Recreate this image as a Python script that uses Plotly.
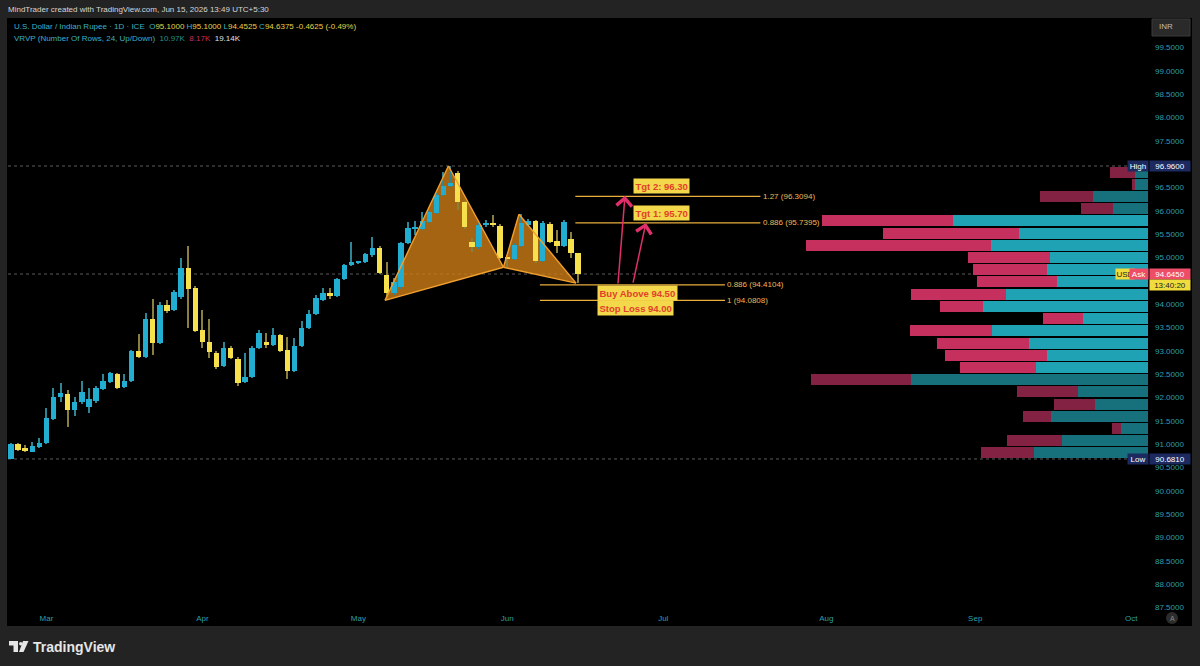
import numpy as np
import plotly.graph_objects as go

# ---------------- data ----------------
first_bar = "2026-02-23"
opens = [90.68, 91.00, 90.92, 90.84, 90.94, 91.02, 91.54, 92.00, 92.07, 91.73,
         91.90, 91.80, 91.92, 92.19, 92.33, 92.50, 92.23, 92.36, 93.00, 92.87,
         93.68, 93.17, 93.98, 93.87, 94.15, 94.77, 94.35, 93.45, 93.19, 92.95,
         92.67, 93.06, 92.82, 92.33, 92.44, 93.06, 93.19, 93.12, 93.34, 93.02,
         92.57, 93.10, 93.49, 93.79, 94.09, 94.24, 94.18, 94.54, 94.84, 94.90,
         94.90, 95.06, 95.20, 94.62, 94.24, 94.37, 95.31, 95.61, 95.61, 95.76,
         95.95, 96.34, 96.53, 96.81, 96.19, 95.33, 95.22, 95.70, 95.71, 95.68,
         94.99, 94.97, 95.25, 95.70, 95.78, 94.92, 95.72, 95.35, 95.25, 95.40,
         95.10]
highs = [91.02, 91.02, 90.97, 91.04, 91.13, 91.77, 92.20, 92.30, 92.16, 92.02,
         92.35, 92.20, 92.25, 92.50, 92.55, 92.52, 92.50, 93.02, 93.36, 93.80,
         94.10, 94.05, 94.09, 94.30, 94.99, 95.25, 94.38, 93.87, 93.68, 93.00,
         93.19, 93.10, 92.86, 92.95, 93.10, 93.45, 93.38, 93.49, 93.36, 93.30,
         93.27, 93.64, 93.87, 94.20, 94.35, 94.35, 94.56, 94.86, 95.33, 94.92,
         95.10, 95.44, 95.24, 94.90, 94.55, 95.33, 95.76, 95.78, 95.97, 96.00,
         96.38, 96.83, 96.96, 96.85, 96.22, 95.41, 95.73, 95.80, 95.91, 95.72,
         95.05, 95.30, 95.93, 95.82, 95.80, 95.78, 95.75, 95.59, 95.80, 95.55,
         95.10]
lows = [90.681, 90.85, 90.84, 90.82, 90.92, 91.00, 91.52, 91.90, 91.37, 91.60,
        91.85, 91.66, 91.88, 92.15, 92.30, 92.18, 92.20, 92.34, 92.85, 92.85,
        92.90, 93.15, 93.80, 93.85, 94.12, 93.49, 93.40, 93.06, 92.85, 92.60,
        92.65, 92.83, 92.25, 92.31, 92.42, 93.04, 93.06, 93.10, 92.98, 92.40,
        92.55, 93.08, 93.47, 93.77, 94.07, 94.11, 94.16, 94.52, 94.82, 94.88,
        94.88, 95.02, 94.64, 94.0808, 94.20, 94.33, 95.28, 95.48, 95.58, 95.74,
        95.93, 96.32, 96.50, 96.02, 95.60, 95.12, 95.18, 95.66, 95.66, 94.96,
        94.79, 94.94, 95.22, 95.66, 94.88, 94.90, 95.30, 95.10, 95.22, 94.99,
        94.4525]
closes = [91.00, 90.88, 90.86, 90.96, 91.03, 91.56, 92.01, 92.10, 91.73, 91.90,
          92.12, 91.97, 92.20, 92.36, 92.52, 92.20, 92.36, 93.00, 92.87, 93.68,
          93.17, 93.98, 93.85, 94.26, 94.77, 94.32, 93.42, 93.19, 92.98, 92.65,
          93.06, 92.85, 92.31, 92.44, 93.06, 93.38, 93.12, 93.34, 93.00, 92.57,
          93.10, 93.49, 93.79, 94.13, 94.24, 94.18, 94.54, 94.84, 94.90, 94.90,
          95.07, 95.20, 94.67, 94.24, 94.47, 95.31, 95.63, 95.63, 95.78, 95.97,
          96.34, 96.53, 96.60, 96.19, 95.65, 95.22, 95.70, 95.71, 95.70, 94.99,
          94.97, 95.27, 95.74, 95.78, 94.92, 95.74, 95.33, 95.25, 95.76, 95.10,
          94.6375]

month_labels = ["Mar", "Apr", "May", "Jun", "Jul", "Aug", "Sep", "Oct"]
month_first_days = ["2026-03-02", "2026-04-01", "2026-05-01", "2026-06-01",
                    "2026-07-01", "2026-08-03", "2026-09-01", "2026-10-01"]
# 94.5 and 97.0 are hidden behind the price tags in the original
price_ticks = [87.5, 88.0, 88.5, 89.0, 89.5, 90.0, 90.5, 91.0, 91.5, 92.0, 92.5,
               93.0, 93.5, 94.0, 95.0, 95.5, 96.0, 96.5, 97.5, 98.0,
               98.5, 99.0, 99.5]

# visible-range volume profile (24 rows, bottom -> top)
vp_low, vp_high = 90.681, 96.96
vol_up = [513, 390, 123, 436, 241, 318, 1071, 504, 454, 536, 704, 295,
          745, 640, 409, 454, 440, 708, 581, 881, 159, 250, 59, 59]
vol_dn = [241, 245, 41, 127, 182, 272, 449, 345, 463, 418, 372, 177,
          195, 431, 363, 336, 372, 835, 613, 590, 145, 236, 14, 114]
value_area = [0, 0, 0, 0, 0, 0, 0, 1, 1, 1, 1, 1,
              1, 1, 1, 1, 1, 1, 1, 1, 0, 0, 0, 0]
vp_totals = ["10.97K", "8.17K", "19.14K"]

ask_price = 94.645
countdown = "13:40:20"

# harmonic pattern points (bar index, price)
pat_names = ["X", "A", "B", "C", "D"]
pat_x = [52.75, 61.7, 69.46, 71.65, 79.7]
pat_y = [94.0808, 96.96, 94.79, 95.925, 94.45]

fib_labels = ["1.27 (96.3094)", "0.886 (95.7395)", "0.886 (94.4104)", "1 (94.0808)"]
fib_levels = [96.3094, 95.7395, 94.4104, 94.0808]
fib_x0 = [79.6, 79.6, 74.6, 74.6]
fib_x1 = [105.7, 105.7, 100.7, 100.7]

note_texts = ["Tgt 2: 96.30", "Tgt 1: 95.70", "Buy Above 94.50", "Stop Loss 94.00"]
note_x = [87.75, 87.75, 82.6, 82.6]
note_y = [96.53, 95.95, 94.24, 93.92]

arrow_tail_x = [85.6, 87.7]
arrow_tail_y = [94.41, 94.43]
arrow_tip_x = [86.6, 89.55]
arrow_tip_y = [96.32, 95.74]

# ---------------- styling ----------------
W, H = 1200, 666
ML, MR, MT, MB = 8, 52, 18, 58
PW, PH = W - ML - MR, H - MT - MB
FONT = "Liberation Sans"
UP, DN = "#22aed1", "#f6e04b"
UP_W, DN_W = "#2e8596", "#8a7f3c"
AXC = "#2f9fa9"
XR = [-0.42, 160.37]
YR = [87.487, 100.132]

def px(xp):
    return (xp - ML) / PW

def py(yp):
    return (H - MB - yp) / PH

n = len(opens)
idx = np.arange(n)
is_up = [c >= o for o, c in zip(opens, closes)]
month_idx = np.busday_count(first_bar, month_first_days)

fig = go.Figure()

# wicks
for up in (True, False):
    sel = [i for i in range(n) if is_up[i] == up]
    fig.add_trace(go.Bar(
        x=[idx[i] for i in sel], y=[highs[i] - lows[i] for i in sel],
        base=[lows[i] for i in sel], width=0.17,
        marker=dict(color=UP_W if up else DN_W, line=dict(width=0)),
        hoverinfo="skip", showlegend=False))
# bodies
for up in (True, False):
    sel = [i for i in range(n) if is_up[i] == up]
    fig.add_trace(go.Bar(
        x=[idx[i] for i in sel],
        y=[max(abs(closes[i] - opens[i]), 0.025) for i in sel],
        base=[min(opens[i], closes[i]) for i in sel], width=0.76,
        marker=dict(color=UP if up else DN, line=dict(width=0)),
        hoverinfo="skip", showlegend=False))

# volume profile
rows = len(vol_up)
step = (vp_high - vp_low) / rows
centers = [vp_low + (i + 0.5) * step for i in range(rows)]
up_cols = ["#20a2b5" if v else "#16717c" for v in value_area]
dn_cols = ["#c5305f" if v else "#842243" for v in value_area]
vmax = max(u + d for u, d in zip(vol_up, vol_dn))
fig.add_trace(go.Bar(y=centers, x=vol_up, base=[0] * rows, orientation="h",
                     xaxis="x2", yaxis="y", width=step * 0.9,
                     marker=dict(color=up_cols, line=dict(width=0)),
                     hoverinfo="skip", showlegend=False))
fig.add_trace(go.Bar(y=centers, x=vol_dn, base=vol_up, orientation="h",
                     xaxis="x2", yaxis="y", width=step * 0.9,
                     marker=dict(color=dn_cols, line=dict(width=0)),
                     hoverinfo="skip", showlegend=False))

shapes = []
# black chart panel
shapes.append(dict(type="rect", xref="paper", yref="paper", layer="below",
                   x0=px(7), x1=px(1192), y0=py(626), y1=py(18),
                   fillcolor="#000000", line=dict(width=0)))
# high / low / last price dotted lines
for lvl in (vp_high, vp_low, ask_price):
    shapes.append(dict(type="line", xref="paper", yref="y", layer="below",
                       x0=0, x1=1, y0=lvl, y1=lvl,
                       line=dict(color="#5c5c5c", width=1, dash="dot")))
# pattern fill
P = list(zip(pat_x, pat_y))
def tri(a, b, c):
    return f"M {a[0]},{a[1]} L {b[0]},{b[1]} L {c[0]},{c[1]} Z"
for a, b, c in ((P[0], P[1], P[2]), (P[2], P[3], P[4])):
    shapes.append(dict(type="path", xref="x", yref="y", layer="below",
                       path=tri(a, b, c), fillcolor="rgba(205,125,22,0.80)",
                       line=dict(width=0)))
for a, b in ((0, 1), (1, 2), (0, 2), (2, 3), (3, 4), (2, 4)):
    shapes.append(dict(type="line", xref="x", yref="y", layer="above",
                       x0=P[a][0], y0=P[a][1], x1=P[b][0], y1=P[b][1],
                       line=dict(color="#f2a02e", width=1.4)))
# fib lines
for lv, a, b in zip(fib_levels, fib_x0, fib_x1):
    shapes.append(dict(type="line", xref="x", yref="y", x0=a, x1=b, y0=lv, y1=lv,
                       line=dict(color="#eaae3c", width=1.3)))
# TradingView logo (bottom)
LOGO = "#e6e6e6"
shapes.append(dict(type="rect", xref="paper", yref="paper", x0=px(9), x1=px(18),
                   y0=py(645.5), y1=py(641), fillcolor=LOGO, line=dict(width=0)))
shapes.append(dict(type="rect", xref="paper", yref="paper", x0=px(13.5), x1=px(18),
                   y0=py(652), y1=py(641), fillcolor=LOGO, line=dict(width=0)))
shapes.append(dict(type="circle", xref="paper", yref="paper", x0=px(19), x1=px(22.5),
                   y0=py(645.5), y1=py(642), fillcolor=LOGO, line=dict(width=0)))
shapes.append(dict(type="path", xref="paper", yref="paper",
                   path=f"M {px(23)},{py(641)} L {px(28.5)},{py(641)} L {px(23.5)},{py(652)} L {px(19)},{py(652)} Z",
                   fillcolor=LOGO, line=dict(width=0)))
# small round button bottom right
shapes.append(dict(type="circle", xref="paper", yref="paper", x0=px(1166), x1=px(1178),
                   y0=py(624), y1=py(612), fillcolor="#2c2c2c", line=dict(width=0)))

ann = []
def A(**k):
    base = dict(showarrow=False, font=dict(family=FONT, size=8, color="#d0d0d0"))
    base.update(k)
    ann.append(base)

# header
A(text="MindTrader created with TradingView.com, Jun 15, 2026 13:49 UTC+5:30",
  xref="paper", yref="paper", x=px(6), y=py(9.5), xanchor="left", yanchor="middle",
  font=dict(family=FONT, size=8, color="#d6d6d6"))
cy, yl = "#3db0c4", "#e6d24a"
chg = closes[-1] - closes[-2]
pct = chg / closes[-2] * 100
t1 = (f"<span style='color:{cy}'>U.S. Dollar / Indian Rupee · 1D · ICE</span>  "
      f"<span style='color:{cy}'>O</span><span style='color:{yl}'>{opens[-1]:.4f}</span> "
      f"<span style='color:{cy}'>H</span><span style='color:{yl}'>{highs[-1]:.4f}</span> "
      f"<span style='color:{cy}'>L</span><span style='color:{yl}'>{lows[-1]:.4f}</span> "
      f"<span style='color:{cy}'>C</span><span style='color:{yl}'>{closes[-1]:.4f}</span> "
      f"<span style='color:{yl}'>{chg:.4f} ({pct:.2f}%)</span>")
A(text=t1, xref="paper", yref="paper", x=px(12), y=py(26), xanchor="left", yanchor="middle",
  font=dict(family=FONT, size=8, color=cy))
t2 = (f"<span style='color:{cy}'>VRVP (Number Of Rows, {rows}, Up/Down)</span>  "
      f"<span style='color:#23958f'>{vp_totals[0]}</span>  "
      f"<span style='color:#c5305f'>{vp_totals[1]}</span>  "
      f"<span style='color:#e0e0e0'>{vp_totals[2]}</span>")
A(text=t2, xref="paper", yref="paper", x=px(12), y=py(38.5), xanchor="left", yanchor="middle",
  font=dict(family=FONT, size=8, color=cy))

# fib labels
for t, lv, a, b in zip(fib_labels, fib_levels, fib_x0, fib_x1):
    A(text=t, xref="x", yref="y", x=b + 0.05, y=lv, xanchor="left", yanchor="middle",
      font=dict(family=FONT, size=8, color="#eeb85a"))
# notes
for t, x, y in zip(note_texts, note_x, note_y):
    A(text=f"<b>{t}</b>", xref="x", yref="y", x=x, y=y, xanchor="left", yanchor="middle",
      bgcolor="#f3d84b", borderpad=1.5, font=dict(family=FONT, size=9.5, color="#e2402a"))
# arrows
for tx, ty, hx, hy in zip(arrow_tail_x, arrow_tail_y, arrow_tip_x, arrow_tip_y):
    ann.append(dict(x=hx, y=hy, ax=tx, ay=ty, xref="x", yref="y", axref="x", ayref="y",
                    text="", showarrow=True, arrowhead=4, arrowsize=2, arrowwidth=1.5,
                    arrowcolor="#e0306a", standoff=0))

# right-side price scale labels
def tag(text, xc, w, yv, bg, fc="#ffffff"):
    A(text=text, xref="paper", yref="y", x=px(xc), y=yv, xanchor="center", yanchor="middle",
      width=w, height=10, bgcolor=bg, borderpad=0, align="center",
      font=dict(family=FONT, size=8, color=fc))
tag("High", 1138, 20, vp_high, "#1d2a60")
tag(f"{vp_high:.4f}", 1170, 40, vp_high, "#1d2a60")
tag("Low", 1138, 20, vp_low, "#1d2a60")
tag(f"{vp_low:.4f}", 1170, 40, vp_low, "#1d2a60")
tag("USD", 1125, 18, ask_price, "#f0dc3c", "#222222")
tag("Ask", 1139, 18, ask_price, "#ee4d68")
tag(f"{ask_price:.4f}", 1170, 40, ask_price, "#ee4d68")
tag(countdown, 1170, 40, ask_price - 11 / PH * (YR[1] - YR[0]), "#f0dc3c", "#222222")
A(text="INR", xref="paper", yref="paper", x=px(1157), y=py(27), xanchor="left", yanchor="middle",
  font=dict(family=FONT, size=8, color="#bdbdbd"))
shapes.append(dict(type="rect", xref="paper", yref="paper", x0=px(1152), x1=px(1190),
                   y0=py(36), y1=py(19), fillcolor="#2a2a2a", line=dict(color="#3a3a3a", width=1),
                   layer="below"))
A(text="A", xref="paper", yref="paper", x=px(1172), y=py(618), xanchor="center", yanchor="middle",
  font=dict(family=FONT, size=7, color="#8a8a8a"))
# bottom logo text
A(text="<b>TradingView</b>", xref="paper", yref="paper", x=px(31), y=py(646.5), xanchor="left",
  yanchor="middle", font=dict(family=FONT, size=14, color="#e6e6e6"))

fig.update_layout(
    width=W, height=H, margin=dict(l=ML, r=MR, t=MT, b=MB),
    paper_bgcolor="#232323", plot_bgcolor="#000000",
    barmode="overlay", bargap=0, showlegend=False, hovermode=False,
    shapes=shapes, annotations=ann,
    xaxis=dict(range=XR, showgrid=False, zeroline=False, showline=False,
               tickmode="array", tickvals=list(month_idx), ticktext=month_labels,
               tickfont=dict(family=FONT, size=8, color=AXC), ticks="",
               ticklabelstandoff=4, fixedrange=True),
    xaxis2=dict(overlaying="x", anchor="y", range=[vmax / 0.30, 0], visible=False,
                fixedrange=True),
    yaxis=dict(range=YR, side="right", showgrid=False, zeroline=False, showline=False,
               tickmode="array", tickvals=price_ticks,
               ticktext=[f"{t:.4f}" for t in price_ticks],
               tickfont=dict(family=FONT, size=8, color=AXC), ticks="",
               ticklabelstandoff=6, fixedrange=True),
)

fig.write_html("out.html")
